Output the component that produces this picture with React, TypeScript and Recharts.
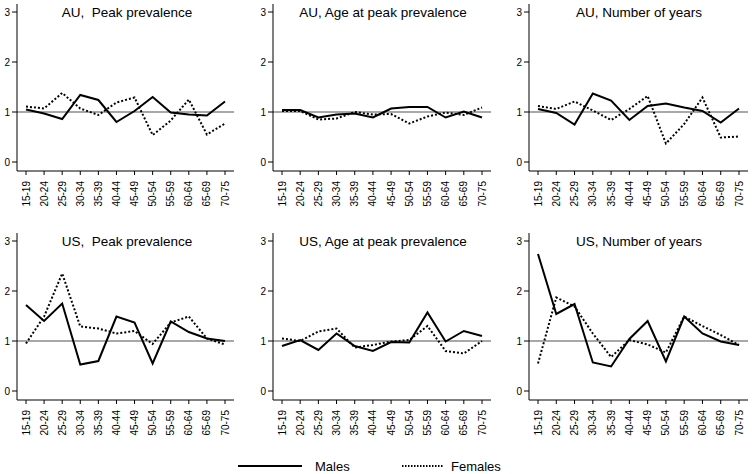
import React from 'react'
import { LineChart, Line, XAxis, YAxis, ReferenceLine } from 'recharts'

const ageGroups = ['15-19', '20-24', '25-29', '30-34', '35-39', '40-44', '45-49', '50-54', '55-59', '60-64', '65-69', '70-75']

const auPeakMales = [1.05, 0.97, 0.86, 1.34, 1.24, 0.8, 1.02, 1.3, 0.99, 0.95, 0.93, 1.21]
const auPeakFemales = [1.11, 1.07, 1.38, 1.07, 0.94, 1.19, 1.29, 0.54, 0.83, 1.25, 0.55, 0.77]
const auAgeMales = [1.04, 1.04, 0.89, 0.95, 0.97, 0.89, 1.07, 1.1, 1.1, 0.89, 1.01, 0.89]
const auAgeFemales = [1.02, 1.02, 0.85, 0.87, 1.0, 0.95, 0.96, 0.77, 0.91, 0.99, 0.94, 1.09]
const auYearsMales = [1.06, 0.98, 0.75, 1.37, 1.23, 0.84, 1.12, 1.17, 1.09, 1.02, 0.79, 1.07]
const auYearsFemales = [1.12, 1.06, 1.21, 1.03, 0.84, 1.06, 1.32, 0.37, 0.76, 1.29, 0.49, 0.51]

const usPeakMales = [1.72, 1.4, 1.75, 0.53, 0.6, 1.49, 1.37, 0.55, 1.39, 1.18, 1.05, 1.0]
const usPeakFemales = [0.95, 1.49, 2.35, 1.29, 1.25, 1.15, 1.2, 0.94, 1.37, 1.49, 1.05, 0.93]
const usAgeMales = [0.9, 1.02, 0.82, 1.15, 0.9, 0.8, 0.98, 0.97, 1.57, 0.99, 1.2, 1.1]
const usAgeFemales = [1.05, 1.0, 1.19, 1.25, 0.87, 0.92, 0.99, 1.02, 1.3, 0.8, 0.75, 1.0]
const usYearsMales = [2.74, 1.54, 1.74, 0.57, 0.49, 1.04, 1.4, 0.59, 1.49, 1.15, 0.99, 0.92]
const usYearsFemales = [0.55, 1.87, 1.69, 1.15, 0.68, 1.02, 0.93, 0.77, 1.49, 1.3, 1.12, 0.92]

const yTicks = [0, 1, 2, 3]

const panels = [
  { title: 'AU,  Peak prevalence', males: auPeakMales, females: auPeakFemales, col: 0, row: 0 },
  { title: 'AU, Age at peak prevalence', males: auAgeMales, females: auAgeFemales, col: 1, row: 0 },
  { title: 'AU, Number of years', males: auYearsMales, females: auYearsFemales, col: 2, row: 0 },
  { title: 'US,  Peak prevalence', males: usPeakMales, females: usPeakFemales, col: 0, row: 1 },
  { title: 'US, Age at peak prevalence', males: usAgeMales, females: usAgeFemales, col: 1, row: 1 },
  { title: 'US, Number of years', males: usYearsMales, females: usYearsFemales, col: 2, row: 1 },
]

const FONT = '"Liberation Sans", Arial, sans-serif'

function AgeTick(props: any) {
  const { x, y, payload } = props
  return (
    <g transform={`translate(${x},${y})`}>
      <text transform="rotate(-90)" x={0} y={0} dy="0.35em" textAnchor="end" fontSize={10} fill="#000" fontFamily={FONT}>
        {payload.value}
      </text>
    </g>
  )
}

function Panel({ title, males, females, col, row }: any) {
  const data = ageGroups.map((age, i) => ({ age, males: males[i], females: females[i] }))
  const left = col * 256
  const top = row * 229
  return (
    <div style={{ position: 'absolute', left, top }}>
      <LineChart width={234 + col} height={211} data={data} margin={{ top: 4, right: 0, left: 0, bottom: 0 }}>
        <XAxis
          dataKey="age"
          interval={0}
          padding={{ left: 9, right: 9 }}
          height={40}
          tickSize={4}
          tickMargin={6}
          tick={<AgeTick />}
          axisLine={{ stroke: '#000' }}
          tickLine={{ stroke: '#000' }}
        />
        <YAxis
          type="number"
          domain={[-0.18, 3.16]}
          ticks={yTicks}
          width={17}
          tickSize={5}
          tickMargin={2}
          tick={{ fontSize: 10, fill: '#000', fontFamily: FONT }}
          axisLine={{ stroke: '#000' }}
          tickLine={{ stroke: '#000' }}
        />
        <ReferenceLine y={1} stroke="#a8a8a8" strokeWidth={2} />
        <Line dataKey="females" stroke="#000" strokeWidth={2} strokeDasharray="2 2" dot={false} isAnimationActive={false} />
        <Line dataKey="males" stroke="#000" strokeWidth={2} dot={false} isAnimationActive={false} />
      </LineChart>
      <div
        style={{
          position: 'absolute', left: 0, top: 4, width: 254, textAlign: 'center',
          fontFamily: FONT, fontSize: 13.5, lineHeight: '18px', whiteSpace: 'pre', color: '#000',
        }}
      >
        {title}
      </div>
    </div>
  )
}

export default function App() {
  return (
    <div style={{ position: 'absolute', left: 0, top: 0, width: 752, height: 474, background: '#fff', overflow: 'hidden' }}>
      {panels.map((p) => (
        <Panel key={p.title} {...p} />
      ))}
      <svg width={752} height={474} style={{ position: 'absolute', left: 0, top: 0, pointerEvents: 'none' }}>
        <line x1={238} x2={302} y1={466} y2={466} stroke="#000" strokeWidth={2} />
        <text x={315} y={466} dy="0.35em" fontSize={13} fontFamily={FONT} fill="#000">Males</text>
        <line x1={402} x2={443} y1={466} y2={466} stroke="#000" strokeWidth={2} strokeDasharray="1.5 1.5" />
        <text x={451} y={466} dy="0.35em" fontSize={13} fontFamily={FONT} fill="#000">Females</text>
      </svg>
    </div>
  )
}
